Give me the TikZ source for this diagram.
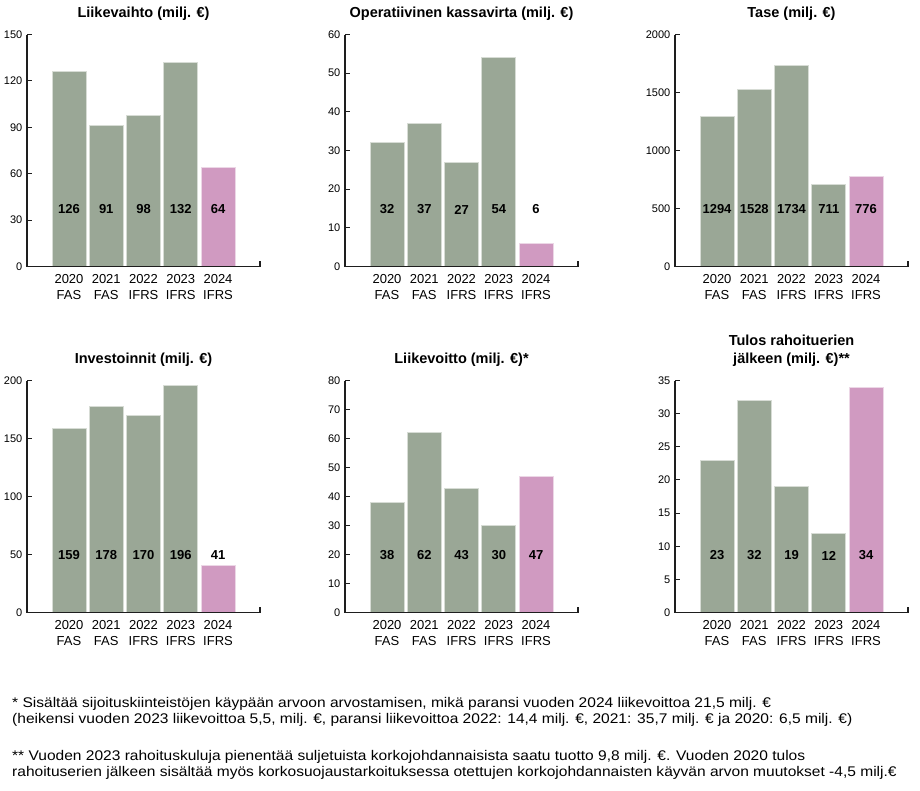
\documentclass[tikz,border=0pt]{standalone}
\usepackage{fontspec}
\setmainfont{Liberation Sans}
\newfontfamily\kpinotefont[FakeStretch=1.11]{Liberation Sans}
\definecolor{kpigreen}{HTML}{9AA796}
\definecolor{kpipink}{HTML}{D09AC1}
\definecolor{kpiaxis}{HTML}{1E1E1E}
\tikzset{
  kpititle/.style={font=\fontsize{14.5}{17.5}\selectfont\bfseries, align=center, anchor=south, inner sep=0pt},
  kpival/.style={font=\fontsize{13}{15}\selectfont\bfseries, inner sep=0pt},
  kpitick/.style={font=\fontsize{11}{13}\selectfont, anchor=east, inner sep=0pt},
  kpiyear/.style={font=\fontsize{13}{16}\selectfont, align=center, anchor=north, inner sep=0pt},
  kpinote/.style={font=\kpinotefont\fontsize{14}{16}\selectfont, anchor=base west, inner sep=0pt},
  kpiaxisline/.style={draw=kpiaxis, line width=1.1pt},
}
% one bar chart: axis x, baseline y, max, tick step, values, title, name
\newcommand{\kpichart}[7]{%
  \begin{scope}[shift={(#1,#2)}]
    \foreach \v [count=\i] in {#5} {
      \pgfmathsetmacro\bx{25+(\i-1)*37.25}
      \pgfmathsetmacro\bh{\v/#3*232}
      \ifnum\i=5 \def\bc{kpipink}\else\def\bc{kpigreen}\fi
      \filldraw[fill=\bc, draw=white!60!\bc, line width=0.6pt] (\bx,0) rectangle ++(34,-\bh);
      \node[kpival] (#7-v\i) at (\bx+17,-57) {\v};
    }
    \foreach \yr/\std [count=\i] in {2020/FAS,2021/FAS,2022/IFRS,2023/IFRS,2024/IFRS}
      \node[kpiyear] (#7-y\i) at ({42+(\i-1)*37.25},7.5) {\yr\\\std};
    \foreach \t in {0,#4,...,#3} {
      \pgfmathsetmacro\ty{\t/#3*232}
      \draw[kpiaxisline] (0,-\ty) -- (5,-\ty);
      \node[kpitick] (#7-t\t) at (-4.5,-\ty) {\t};
    }
    \draw[kpiaxisline] (0,-232) -- (0,0) -- (233,0) -- (233,-6);
    \node[kpititle] (#7) at (116.5,-246) {#6};
  \end{scope}}

\begin{document}
\begin{tikzpicture}[x=1pt, y=-1pt]
  \fill[white] (0,0) rectangle (920,790);
  \useasboundingbox (0,0) rectangle (920,790);

  \kpichart{27}{266.5}{150}{30}{126,91,98,132,64}{Liikevaihto (milj. €)}{lv}
  \kpichart{345}{266.5}{60}{10}{32,37,27,54,6}{Operatiivinen kassavirta (milj. €)}{okv}
  \kpichart{675}{266.5}{2000}{500}{1294,1528,1734,711,776}{Tase (milj. €)}{tase}
  \kpichart{27}{612.5}{200}{50}{159,178,170,196,41}{Investoinnit (milj. €)}{inv}
  \kpichart{345}{612.5}{80}{10}{38,62,43,30,47}{Liikevoitto (milj. €)*}{lvo}
  \kpichart{675}{612.5}{35}{5}{23,32,19,12,34}{Tulos rahoituerien\\jälkeen (milj. €)**}{tulos}

  % footnotes
  \node[kpinote] (note1) at (12,707.5) {* Sisältää sijoituskiinteistöjen käypään arvoon arvostamisen, mikä paransi vuoden 2024 liikevoittoa 21,5 milj. €};
  \node[kpinote] (note2) at (12,723.5) {(heikensi vuoden 2023 liikevoittoa 5,5, milj. €, paransi liikevoittoa 2022: 14,4 milj. €, 2021: 35,7 milj. € ja 2020: 6,5 milj. €)};
  \node[kpinote] (note3) at (12,760) {** Vuoden 2023 rahoituskuluja pienentää suljetuista korkojohdannaisista saatu tuotto 9,8 milj. €. Vuoden 2020 tulos};
  \node[kpinote] (note4) at (12,776) {rahoituserien jälkeen sisältää myös korkosuojaustarkoituksessa otettujen korkojohdannaisten käyvän arvon muutokset -4,5 milj.€};
\end{tikzpicture}
\end{document}
